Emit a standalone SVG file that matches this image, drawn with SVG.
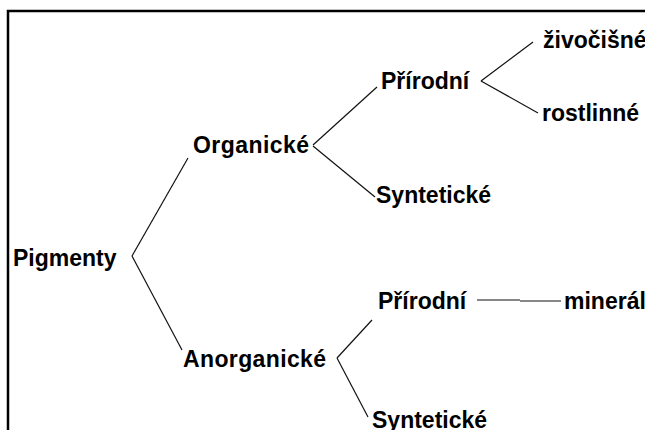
<svg xmlns="http://www.w3.org/2000/svg" width="645" height="430" viewBox="0 0 645 430">
<style>
.t{font-family:"Liberation Sans",Arial,sans-serif;font-weight:bold;font-size:23px;fill:#000}
.c line{stroke:#111;stroke-width:1.2}
</style>
<rect width="645" height="430" fill="#fff"/>
<rect x="8" y="11" width="660" height="440" fill="none" stroke="#000" stroke-width="2.5"/>
<g class="c" id="connectors">
<line x1="132" y1="256" x2="188" y2="158"/>
<line x1="132" y1="256" x2="182" y2="350"/>
<line x1="313" y1="145" x2="377" y2="87"/>
<line x1="313" y1="146" x2="375" y2="197"/>
<line x1="481" y1="81" x2="533" y2="42"/>
<line x1="481" y1="81" x2="538" y2="113"/>
<line x1="337" y1="358" x2="372" y2="320"/>
<line x1="337" y1="358" x2="368" y2="417"/>
<line x1="477" y1="300" x2="520" y2="300"/>
<line x1="520" y1="301" x2="561" y2="301"/>
</g>
<g id="pigmenty"><text class="t" x="13" y="266">Pigmenty</text></g>
<g id="organicke"><text class="t" x="193" y="153" textLength="116">Organické</text></g>
<g id="prirodni1"><text class="t" x="381" y="89">Přírodní</text></g>
<g id="zivocisne"><text class="t" x="543" y="48">živočišné</text></g>
<g id="rostlinne"><text class="t" x="542" y="121">rostlinné</text></g>
<g id="synteticke1"><text class="t" x="376" y="203">Syntetické</text></g>
<g id="anorganicke"><text class="t" x="183" y="367" textLength="143">Anorganické</text></g>
<g id="prirodni2"><text class="t" x="378" y="309">Přírodní</text></g>
<g id="mineral"><text class="t" x="564" y="309">minerál</text></g>
<g id="synteticke2"><text class="t" x="372" y="428">Syntetické</text></g>
</svg>
